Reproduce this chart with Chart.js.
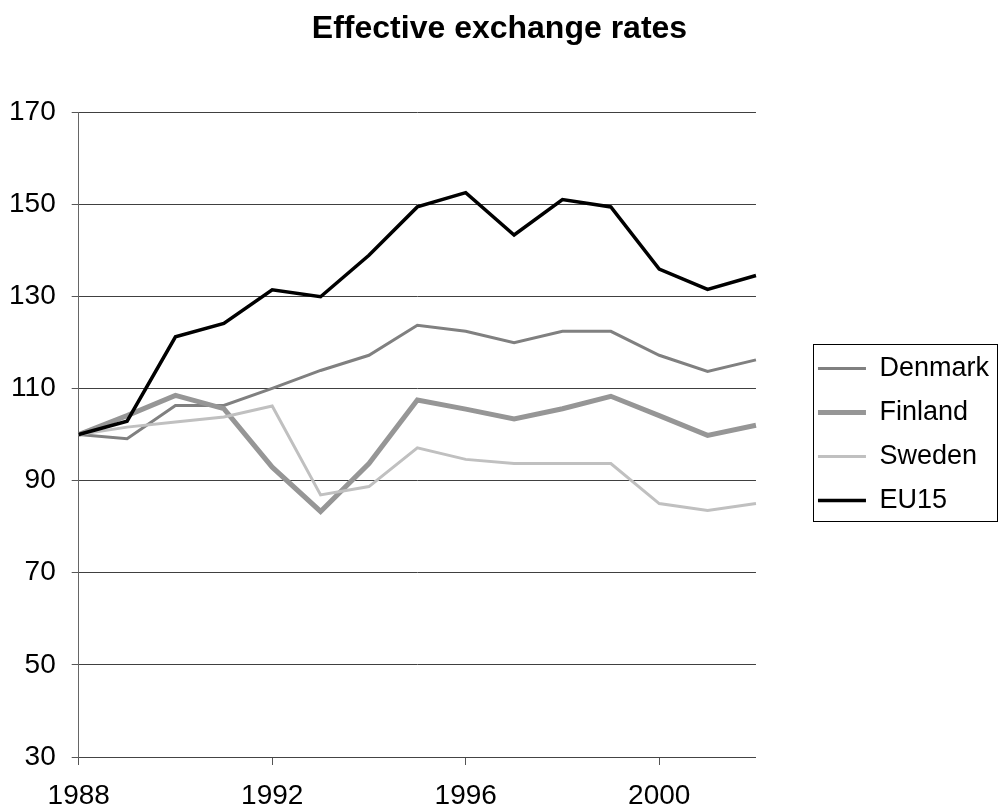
<!DOCTYPE html>
<html>
<head>
<meta charset="utf-8">
<script src="https://cdn.jsdelivr.net/npm/chart.js@4/dist/chart.umd.min.js"></script>
<style>
  html, body { margin: 0; padding: 0; background: #ffffff; }
  #wrap { width: 999px; height: 812px; }
</style>
</head>
<body>
<div id="wrap"><canvas id="c" width="999" height="812"></canvas></div>
<script>
const years = ['1988','1989','1990','1991','1992','1993','1994','1995','1996','1997','1998','1999','2000','2001','2002'];
const denmark = [100, 99.1, 106.3, 106.3, 110, 113.9, 117.2, 123.7, 122.4, 119.9, 122.4, 122.4, 117.2, 113.7, 116.2];
const finland = [100, 104.1, 108.5, 105.6, 92.9, 83.3, 93.7, 107.5, 105.5, 103.4, 105.6, 108.3, 104.1, 99.8, 102];
const sweden  = [100, 101.6, 102.7, 103.8, 106.2, 86.9, 88.7, 97.1, 94.6, 93.7, 93.7, 93.7, 85, 83.5, 85];
const eu15    = [100, 102.9, 121.2, 124.1, 131.4, 129.9, 138.9, 149.4, 152.5, 143.3, 151, 149.4, 135.9, 131.5, 134.5];
const labeledYears = ['1988','1992','1996','2000'];
const yMin = 30, yMax = 170, yStep = 20;

const FONT = "'Liberation Sans', Arial, sans-serif";

const legendBox = {
  id: 'legendBox',
  afterDraw(chart) {
    const lg = chart.legend;
    if (!lg || !lg.legendHitBoxes || !lg.legendHitBoxes.length) return;
    const hb = lg.legendHitBoxes;
    const first = hb[0], last = hb[hb.length - 1];
    const left = Math.round(first.left - 5) + 0.5;
    const right = 997.5;
    const top = Math.round(first.top + first.height / 2 - 25) + 0.5;
    const bottom = Math.round(last.top + last.height / 2 + 20) + 0.5;
    const ctx = chart.ctx;
    ctx.save();
    ctx.strokeStyle = '#000000';
    ctx.lineWidth = 1;
    ctx.strokeRect(left, top, right - left, bottom - top);
    ctx.restore();
  }
};

new Chart(document.getElementById('c'), {
  type: 'line',
  data: {
    labels: years,
    datasets: [
      { label: 'Denmark', data: denmark, borderColor: '#808080', backgroundColor: '#808080', borderWidth: 3, order: 4 },
      { label: 'Finland', data: finland, borderColor: '#969696', backgroundColor: '#969696', borderWidth: 5, order: 3 },
      { label: 'Sweden',  data: sweden,  borderColor: '#C0C0C0', backgroundColor: '#C0C0C0', borderWidth: 3, order: 2 },
      { label: 'EU15',    data: eu15,    borderColor: '#000000', backgroundColor: '#000000', borderWidth: 3.5, order: 1 }
    ]
  },
  options: {
    responsive: false,
    animation: false,
    devicePixelRatio: 1,
    layout: { padding: 0 },
    elements: {
      point: { radius: 0, hoverRadius: 0 },
      line: { tension: 0, borderJoinStyle: 'miter', fill: false }
    },
    plugins: {
      tooltip: { enabled: false },
      title: {
        display: true,
        text: 'Effective exchange rates',
        color: '#000000',
        font: { family: FONT, size: 32, weight: 'bold', lineHeight: 1.2 },
        padding: { top: 10, bottom: 63.6 }
      },
      legend: {
        display: true,
        position: 'right',
        fullSize: false,
        align: 'center',
        maxWidth: 200,
        labels: {
          usePointStyle: true,
          pointStyle: 'line',
          pointStyleWidth: 48,
          padding: 17,
          color: '#000000',
          font: { family: FONT, size: 27 },
          sort: (a, b) => a.datasetIndex - b.datasetIndex
        }
      }
    },
    scales: {
      x: {
        type: 'category',
        offset: false,
        border: { display: true, color: '#444444', width: 1 },
        grid: {
          display: true,
          drawOnChartArea: false,
          drawTicks: true,
          tickLength: 8,
          tickColor: (c) => (c.tick && labeledYears.includes(years[c.index])) ? '#555555' : 'rgba(0,0,0,0)'
        },
        ticks: {
          autoSkip: false,
          maxRotation: 0,
          minRotation: 0,
          padding: 14,
          color: '#000000',
          font: { family: FONT, size: 28 },
          callback: function(value, index) {
            const y = years[index];
            return labeledYears.includes(y) ? y : '';
          }
        },
        afterFit: (s) => { s.height = 55; }
      },
      y: {
        min: yMin,
        max: yMax,
        border: { display: true, color: '#666666', width: 1 },
        grid: { display: true, color: '#404040', lineWidth: 1, drawTicks: true, tickLength: 7, tickColor: '#555555' },
        ticks: {
          stepSize: yStep,
          padding: 16,
          color: '#000000',
          font: { family: FONT, size: 28 }
        },
        afterFit: (s) => { s.width = 78.7; }
      },
      gap: {
        type: 'linear',
        position: 'right',
        display: true,
        grid: { display: false, drawTicks: false },
        border: { display: false },
        ticks: { display: false },
        afterFit: (s) => { s.width = 45; }
      }
    }
  },
  plugins: [legendBox]
});
</script>
</body>
</html>
